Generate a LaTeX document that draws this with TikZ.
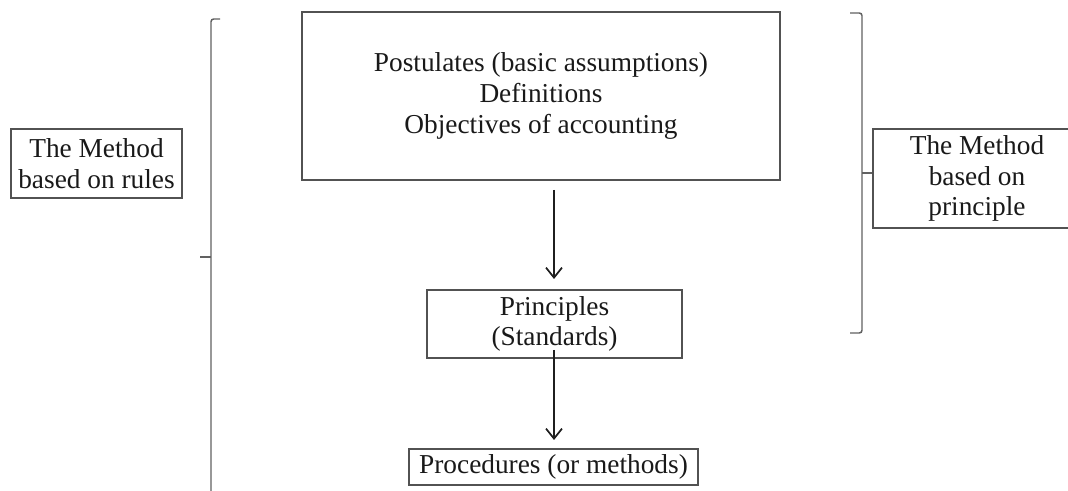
\documentclass[tikz,border=0pt]{standalone}
\usepackage{fontspec}
\setmainfont{Liberation Serif}
\usetikzlibrary{arrows.meta}
\begin{document}
\begin{tikzpicture}[x=0.75pt,y=-0.75pt,
  boxnode/.style={draw=black!68,line width=1.1pt,inner sep=0pt,align=center,
    font=\fontsize{20.5pt}{23pt}\selectfont,text=black!90},
  flowarrow/.style={draw=black!88,line width=1.3pt,-{Straight Barb[length=7.5pt,width=12pt,line width=1.3pt]}},
  bracketline/.style={draw=black!62,line width=1.1pt,rounded corners=2pt}]
\useasboundingbox (0,0) rectangle (1068,491);
\clip (0,0) rectangle (1068,491);
\node[boxnode,minimum width=358.5pt,minimum height=126pt] (top) at (541,96)
  {Postulates (basic assumptions)\\Definitions\\Objectives of accounting};
\node[boxnode,minimum width=191.25pt,minimum height=51pt] (prin) at (554.5,324)
  {Principles\\(Standards)};
\node[boxnode,minimum width=216.75pt,minimum height=27pt] (proc) at (553.5,467)
  {Procedures (or methods)};
\node[boxnode,minimum width=128.25pt,minimum height=51.75pt] (rules) at (96.5,163.5)
  {The Method\\based on rules};
\node[boxnode,minimum width=156pt,minimum height=74.25pt] (princ) at (977,178.5)
  {The Method\\based on\\principle};
\coordinate (a1s) at (554,190);
\coordinate (a1e) at (554,279);
\coordinate (a2s) at (554,350);
\coordinate (a2e) at (554,440);
\draw[flowarrow] (a1s) -- (a1e);
\draw[flowarrow] (a2s) -- (a2e);
% left bracket
\draw[bracketline] (220,19) -- (211,19) -- (211,495);
\draw[bracketline] (200,257) -- (211,257);
% right bracket
\coordinate (rb) at (862,173);
\draw[bracketline] (850,13) -- (862,13) -- (862,333) -- (850,333);
\draw[bracketline] (rb) -- (princ.west |- rb);
\end{tikzpicture}
\end{document}
